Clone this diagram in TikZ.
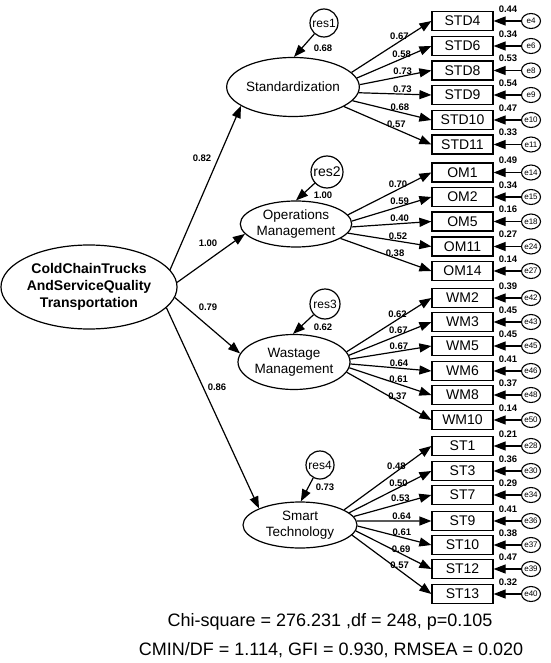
\documentclass[tikz,border=0pt]{standalone}
\usepackage{fontspec}
\setmainfont{Liberation Sans}
\usetikzlibrary{shapes.geometric,arrows.meta}
\tikzset{
  path/.style={line width=1.2pt,-{Triangle[length=12pt,width=9pt]}},
  lat/.style={draw,ellipse,line width=1.2pt,inner sep=0pt,align=center,
    font=\fontsize{13.5}{16}\selectfont},
  obs/.style={draw,rectangle,line width=1.2pt,minimum width=61pt,
    minimum height=19pt,inner sep=0pt,font=\fontsize{14}{14}\selectfont},
  err/.style={draw,ellipse,line width=1.1pt,minimum width=19pt,
    minimum height=15pt,inner sep=0pt,font=\fontsize{8}{8}\selectfont},
  res/.style={draw,circle,line width=1.2pt,inner sep=0pt,
    font=\fontsize{12}{12}\selectfont},
  lbl/.style={inner sep=0pt,font=\fontsize{9.5}{10}\bfseries\selectfont},
}
\newcommand\Indicators[2]{
  \foreach \nm/\y/\an/\ld/\en/\ev in {#2}
  {
    \node[obs] (\nm) at (462.5,\y) {\nm};
    \node[err] (\en) at (531,\y) {\en};
    \draw[path] (\en) -- (\nm);
    \node[lbl] (v\en) at (508,\y-12) {\ev};
    \draw[path] (#1.\an) -- (\nm.west) node[lbl,pos=0.6,above=1pt] {\ld};
  }
}

\begin{document}
\begin{tikzpicture}[x=1pt, y=-1pt]
\useasboundingbox (0,0) rectangle (550,663);
% latent variables
\node[lat,minimum width=168,minimum height=84,
  font=\fontsize{14}{17}\bfseries\selectfont] (cc) at (89,287)
  {ColdChainTrucks\\AndServiceQuality\\Transportation};
\node[lat,minimum width=104,minimum height=59] (std) at (293,87) {Standardization};
\node[lat,minimum width=108,minimum height=46] (om) at (296,224) {Operations\\Management};
\node[lat,minimum width=112,minimum height=55] (wm) at (294,362) {Wastage\\Management};
\node[lat,minimum width=114,minimum height=46] (st) at (300,525) {Smart\\Technology};

% residuals
\node[res,minimum size=28] (res1) at (324,23) {res1};
\node[res,minimum size=32,font=\fontsize{14}{14}\selectfont] (res2) at (327,172) {res2};
\node[res,minimum size=30] (res3) at (325,304) {res3};
\node[res,minimum size=28] (res4) at (320,465) {res4};
\draw[path] (res1) -- (std.88);
\draw[path] (res2) -- (om.90);
\draw[path] (res3) -- (wm.92);
\draw[path] (res4) -- (st.88);
\node[lbl] (r1) at (323,48) {0.68};
\node[lbl] (r2) at (323,195) {1.00};
\node[lbl] (r3) at (323,327) {0.62};
\node[lbl] (r4) at (325,487) {0.73};

% second order paths
\draw[path] (cc.12) -- (std.200);
\draw[path] (cc.3) -- (om.191);
\draw[path] (cc.353) -- (wm.171);
\draw[path] (cc.345) -- (st.158);
\node[lbl] (p1) at (202,158) {0.82};
\node[lbl] (p2) at (208,243) {1.00};
\node[lbl] (p3) at (208,307) {0.79};
\node[lbl] (p4) at (217,387) {0.86};

% indicators
\Indicators{std}{STD4/21/14/0.67/e4/0.44, STD6/46/8/0.58/e6/0.34,
  STD8/70.5/2/0.73/e8/0.53, STD9/95/-5/0.73/e9/0.54,
  STD10/120/-13/0.68/e10/0.47, STD11/144.5/-21/0.57/e11/0.33}
\Indicators{om}{OM1/172.5/10/0.70/e14/0.49, OM2/197/3/0.59/e15/0.34,
  OM5/221.5/-3/0.40/e18/0.16, OM11/246.5/-10/0.52/e24/0.27,
  OM14/271/-18/0.38/e27/0.14}
\Indicators{wm}{WM2/298/11/0.62/e42/0.39, WM3/322/7/0.67/e43/0.45,
  WM5/346/3/0.67/e45/0.45, WM6/371/-2/0.64/e46/0.41,
  WM8/395/-6/0.61/e48/0.37, WM10/420/-11/0.37/e50/0.14}
\Indicators{st}{ST1/446/19/0.48/e28/0.21, ST3/471/14/0.50/e30/0.36,
  ST7/495/9/0.53/e34/0.29, ST9/521/4/0.64/e36/0.41,
  ST10/545/-1/0.61/e37/0.38, ST12/569/-6/0.69/e39/0.47,
  ST13/594/-11/0.57/e40/0.32}

% fit indices
\node[font=\fontsize{18}{18}\selectfont] (fit1) at (330,622)
  {Chi-square = 276.231 ,df = 248, p=0.105};
\node[font=\fontsize{18}{18}\selectfont] (fit2) at (331,650)
  {CMIN/DF = 1.114, GFI = 0.930, RMSEA = 0.020};
\end{tikzpicture}
\end{document}
